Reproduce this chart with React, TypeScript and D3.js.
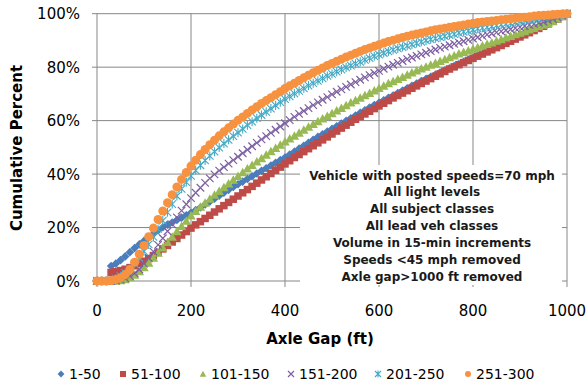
import React from "react";
import * as d3 from "d3";

const axleGap = [
  0, 10, 20, 30, 40, 50, 60, 70, 80, 90, 100, 110, 120, 130, 140, 150, 160, 170, 180, 190,
  200, 210, 220, 230, 240, 250, 260, 270, 280, 290, 300, 310, 320, 330, 340, 350, 360, 370, 380, 390,
  400, 410, 420, 430, 440, 450, 460, 470, 480, 490, 500, 510, 520, 530, 540, 550, 560, 570, 580, 590,
  600, 610, 620, 630, 640, 650, 660, 670, 680, 690, 700, 710, 720, 730, 740, 750, 760, 770, 780, 790,
  800, 810, 820, 830, 840, 850, 860, 870, 880, 890, 900, 910, 920, 930, 940, 950, 960, 970, 980, 990,
  1000,
];

const v1_50 = [
  0, 0, 0, 5.6, 6.5, 7.8, 9.2, 10.8, 12.3, 13.7,
  15, 16.3, 17.6, 18.9, 20.1, 21.1, 21.9, 22.8, 23.7, 24.6,
  25.5, 26.5, 27.5, 28.6, 29.7, 30.8, 31.9, 33, 34.1, 35.2,
  36.2, 37.2, 38.2, 39.2, 40.2, 41.2, 42.2, 43.2, 44.2, 45.2,
  46.2, 47.3, 48.4, 49.5, 50.6, 51.7, 52.8, 53.9, 54.9, 55.9,
  56.9, 57.9, 58.9, 59.9, 60.9, 61.9, 62.9, 63.9, 64.9, 65.8,
  66.7, 67.6, 68.5, 69.4, 70.3, 71.2, 72.1, 73, 73.9, 74.8,
  75.6, 76.4, 77.2, 78, 78.8, 79.6, 80.4, 81.2, 82, 82.8,
  83.6, 84.4, 85.2, 86, 86.8, 87.6, 88.4, 89.2, 90, 90.8,
  91.6, 92.4, 93.2, 94, 94.8, 95.6, 96.4, 97.3, 98.2, 99.1,
  100,
];

const v51_100 = [
  0, 0, 0, 3.2, 3.5, 3.9, 4.4, 5, 5.7, 6.5,
  7.4, 8.4, 9.5, 10.7, 12, 13.3, 14.6, 15.9, 17.2, 18.5,
  19.8, 21, 22.2, 23.4, 24.6, 25.8, 27, 28.2, 29.4, 30.6,
  31.8, 33, 34.2, 35.4, 36.6, 37.8, 39, 40.2, 41.4, 42.6,
  43.8, 45, 46.2, 47.3, 48.4, 49.5, 50.6, 51.7, 52.8, 53.9,
  55, 56.1, 57.2, 58.3, 59.4, 60.5, 61.5, 62.5, 63.5, 64.5,
  65.5, 66.5, 67.5, 68.5, 69.4, 70.3, 71.2, 72.1, 73, 73.9,
  74.8, 75.7, 76.6, 77.5, 78.4, 79.3, 80.1, 80.9, 81.7, 82.5,
  83.3, 84.1, 84.9, 85.7, 86.5, 87.3, 88.1, 88.9, 89.7, 90.5,
  91.3, 92.1, 92.9, 93.7, 94.5, 95.3, 96.2, 97.1, 98, 99,
  100,
];

const v101_150 = [
  0, 0, 0, 0, 0, 0.2, 0.6, 1.3, 2.3, 3.6,
  5.1, 6.8, 8.6, 10.5, 12.5, 14.5, 16.5, 18.5, 20.5, 22.5,
  24.4, 26.1, 27.7, 29.2, 30.7, 32.2, 33.6, 35, 36.4, 37.8,
  39.2, 40.6, 42, 43.3, 44.6, 45.9, 47.2, 48.5, 49.7, 50.9,
  52.1, 53.2, 54.3, 55.4, 56.5, 57.6, 58.7, 59.7, 60.7, 61.7,
  62.7, 63.7, 64.7, 65.7, 66.7, 67.6, 68.5, 69.4, 70.3, 71.2,
  72.1, 73, 73.9, 74.7, 75.5, 76.3, 77.1, 77.9, 78.7, 79.4,
  80.1, 80.8, 81.5, 82.2, 82.9, 83.6, 84.3, 85, 85.6, 86.2,
  86.8, 87.4, 88, 88.6, 89.2, 89.8, 90.4, 91, 91.6, 92.2,
  92.8, 93.4, 94, 94.6, 95.2, 95.8, 96.5, 97.2, 98, 99,
  100,
];

const v151_200 = [
  0, 0, 0, 0, 0.2, 0.5, 1, 1.8, 2.9, 4.3,
  6.5, 8.6, 11, 13.5, 16, 18.6, 21.2, 23.8, 26.3, 28.7,
  31, 33, 34.9, 36.7, 38.4, 39.9, 41.3, 42.6, 43.9, 45.2,
  46.5, 47.8, 49.1, 50.4, 51.7, 53, 54.2, 55.4, 56.6, 57.8,
  59, 60.2, 61.4, 62.5, 63.6, 64.7, 65.8, 66.8, 67.8, 68.8,
  69.8, 70.8, 71.7, 72.6, 73.5, 74.4, 75.3, 76.2, 77, 77.8,
  78.6, 79.4, 80.2, 80.9, 81.6, 82.3, 83, 83.6, 84.2, 84.8,
  85.4, 86, 86.6, 87.2, 87.7, 88.2, 88.7, 89.2, 89.7, 90.2,
  90.7, 91.2, 91.7, 92.2, 92.6, 93, 93.4, 93.8, 94.2, 94.6,
  95, 95.4, 95.8, 96.2, 96.6, 97, 97.5, 98, 98.6, 99.3,
  100,
];

const v201_250 = [
  0, 0, 0, 0.3, 0.9, 1.8, 3, 4.6, 6.5, 8.7,
  11.1, 13.7, 16.5, 19.5, 22.6, 25.7, 28.8, 31.8, 34.5, 37,
  39.3, 41.4, 43.3, 45.1, 46.8, 48.4, 49.9, 51.4, 52.8, 54.2,
  55.5, 56.9, 58.3, 59.6, 60.9, 62.1, 63.3, 64.5, 65.7, 66.9,
  68, 69.1, 70.1, 71.1, 72.1, 73.1, 74, 74.9, 75.8, 76.7,
  77.5, 78.3, 79.1, 79.9, 80.6, 81.3, 82, 82.7, 83.4, 84.1,
  84.7, 85.3, 85.9, 86.5, 87, 87.5, 88, 88.5, 89, 89.5,
  90, 90.4, 90.8, 91.2, 91.6, 92, 92.4, 92.8, 93.2, 93.6,
  94, 94.4, 94.7, 95, 95.3, 95.6, 95.9, 96.2, 96.5, 96.8,
  97.1, 97.4, 97.7, 98, 98.3, 98.6, 98.9, 99.2, 99.5, 99.8,
  100,
];

const v251_300 = [
  0, 0, 0, 0.2, 0.5, 1.2, 2.4, 4.3, 7, 10,
  13.3, 16.6, 19.8, 23, 26.2, 29.3, 32.3, 35.2, 38, 40.6,
  43, 45.2, 47.3, 49.2, 51, 52.7, 54.3, 55.8, 57.3, 58.7,
  60.1, 61.4, 62.7, 64, 65.2, 66.4, 67.5, 68.6, 69.7, 70.8,
  72, 73, 74, 75, 76, 77, 77.9, 78.8, 79.7, 80.6,
  81.4, 82.2, 83, 83.8, 84.5, 85.2, 85.9, 86.6, 87.2, 87.8,
  88.4, 89, 89.6, 90.1, 90.6, 91.1, 91.6, 92, 92.4, 92.8,
  93.2, 93.6, 94, 94.3, 94.6, 94.9, 95.2, 95.5, 95.8, 96.1,
  96.4, 96.7, 96.9, 97.1, 97.3, 97.5, 97.7, 97.9, 98.1, 98.3,
  98.5, 98.7, 98.9, 99.1, 99.3, 99.4, 99.5, 99.7, 99.8, 99.9,
  100,
];

const seriesNames = ["1-50", "51-100", "101-150", "151-200", "201-250", "251-300"];
const seriesValues = [v1_50, v51_100, v101_150, v151_200, v201_250, v251_300];
const seriesColors = ["#4A7EBB", "#BE4B48", "#98B954", "#7D60A0", "#46AAC5", "#F69240"];
const seriesShapes = ["diamond", "square", "triangle", "cross", "star", "circle"];
const seriesSizes = [7.5, 7.5, 8.5, 7.5, 7.5, 9];

const xTicks = [0, 200, 400, 600, 800, 1000];
const yTicks = [0, 20, 40, 60, 80, 100];
const noteLines = [
  "Vehicle with posted speeds=70 mph",
  "All light levels",
  "All subject classes",
  "All lead veh classes",
  "Volume in 15-min increments",
  "Speeds <45 mph removed",
  "Axle gap>1000 ft removed",
];

const W = 588;
const H = 387;
const x = d3.scaleLinear().domain([0, 1000]).range([97, 567]);
const y = d3.scaleLinear().domain([0, 100]).range([281, 13.7]);
const FONT = "'DejaVu Sans', Verdana, sans-serif";
const GRID = "#878787";

function Marker({ shape, cx, cy, s, color }: { shape: string; cx: number; cy: number; s: number; color: string }) {
  const r = s / 2;
  switch (shape) {
    case "diamond":
      return <path d={`M${cx},${cy - r * 1.15}L${cx + r * 1.15},${cy}L${cx},${cy + r * 1.15}L${cx - r * 1.15},${cy}Z`} fill={color} />;
    case "square":
      return <rect x={cx - r} y={cy - r} width={s} height={s} fill={color} />;
    case "triangle":
      return <path d={`M${cx},${cy - r * 1.1}L${cx + r * 1.1},${cy + r * 0.9}L${cx - r * 1.1},${cy + r * 0.9}Z`} fill={color} />;
    case "cross":
      return (
        <path d={`M${cx - r},${cy - r}L${cx + r},${cy + r}M${cx - r},${cy + r}L${cx + r},${cy - r}`} stroke={color} strokeWidth={1.2} fill="none" />
      );
    case "star":
      return (
        <path
          d={`M${cx - r},${cy - r}L${cx + r},${cy + r}M${cx - r},${cy + r}L${cx + r},${cy - r}M${cx},${cy - r * 1.2}L${cx},${cy + r * 1.2}`}
          stroke={color}
          strokeWidth={1.1}
          fill="none"
        />
      );
    default:
      return <circle cx={cx} cy={cy} r={r} fill={color} />;
  }
}

export default function App() {
  const plotLeft = x(0);
  const plotRight = x(1000);
  const legendX = [61, 123, 203, 291, 378, 468];
  return (
    <svg width={W} height={H} style={{ position: "absolute", left: 0, top: 0, background: "#fff" }} fontFamily={FONT}>
      <rect x={0} y={0} width={W} height={H} fill="#fff" />
      {yTicks.map((t) => (
        <g key={"gy" + t}>
          <line x1={plotLeft - 5} x2={plotRight} y1={y(t)} y2={y(t)} stroke={GRID} strokeWidth={1} />
          <text x={80} y={y(t) + 5.5} textAnchor="end" fontSize={15} fill="#000">
            {t}%
          </text>
        </g>
      ))}
      {xTicks.map((t) => (
        <g key={"gx" + t}>
          <line x1={x(t)} x2={x(t)} y1={y(100)} y2={y(0) + 6} stroke={GRID} strokeWidth={1} />
          <text x={x(t)} y={316} textAnchor="middle" fontSize={15} fill="#000">
            {t}
          </text>
        </g>
      ))}
      {seriesValues.map((vals, si) => (
        <g key={"s" + si}>
          {vals.map((v, i) => (
            <Marker key={i} shape={seriesShapes[si]} cx={x(axleGap[i])} cy={y(v)} s={seriesSizes[si]} color={seriesColors[si]} />
          ))}
        </g>
      ))}
      <rect x={300} y={165} width={262} height={120} fill="#fff" />
      {noteLines.map((t, i) => (
        <text key={t} x={432} y={179.5 + i * 16.9} textAnchor="middle" fontSize={12} fontWeight="bold" fill="#1a1a1a">
          {t}
        </text>
      ))}
      <text x={320} y={344} textAnchor="middle" fontSize={15} fontWeight="bold" fill="#000">
        Axle Gap (ft)
      </text>
      <text transform="translate(21.5,148) rotate(-90)" textAnchor="middle" fontSize={15} fontWeight="bold" fill="#000">
        Cumulative Percent
      </text>
      {seriesNames.map((n, i) => (
        <g key={n}>
          <Marker shape={seriesShapes[i]} cx={legendX[i]} cy={374} s={6} color={seriesColors[i]} />
          <text x={legendX[i] + 8} y={379} fontSize={14} fill="#000">
            {n}
          </text>
        </g>
      ))}
    </svg>
  );
}
